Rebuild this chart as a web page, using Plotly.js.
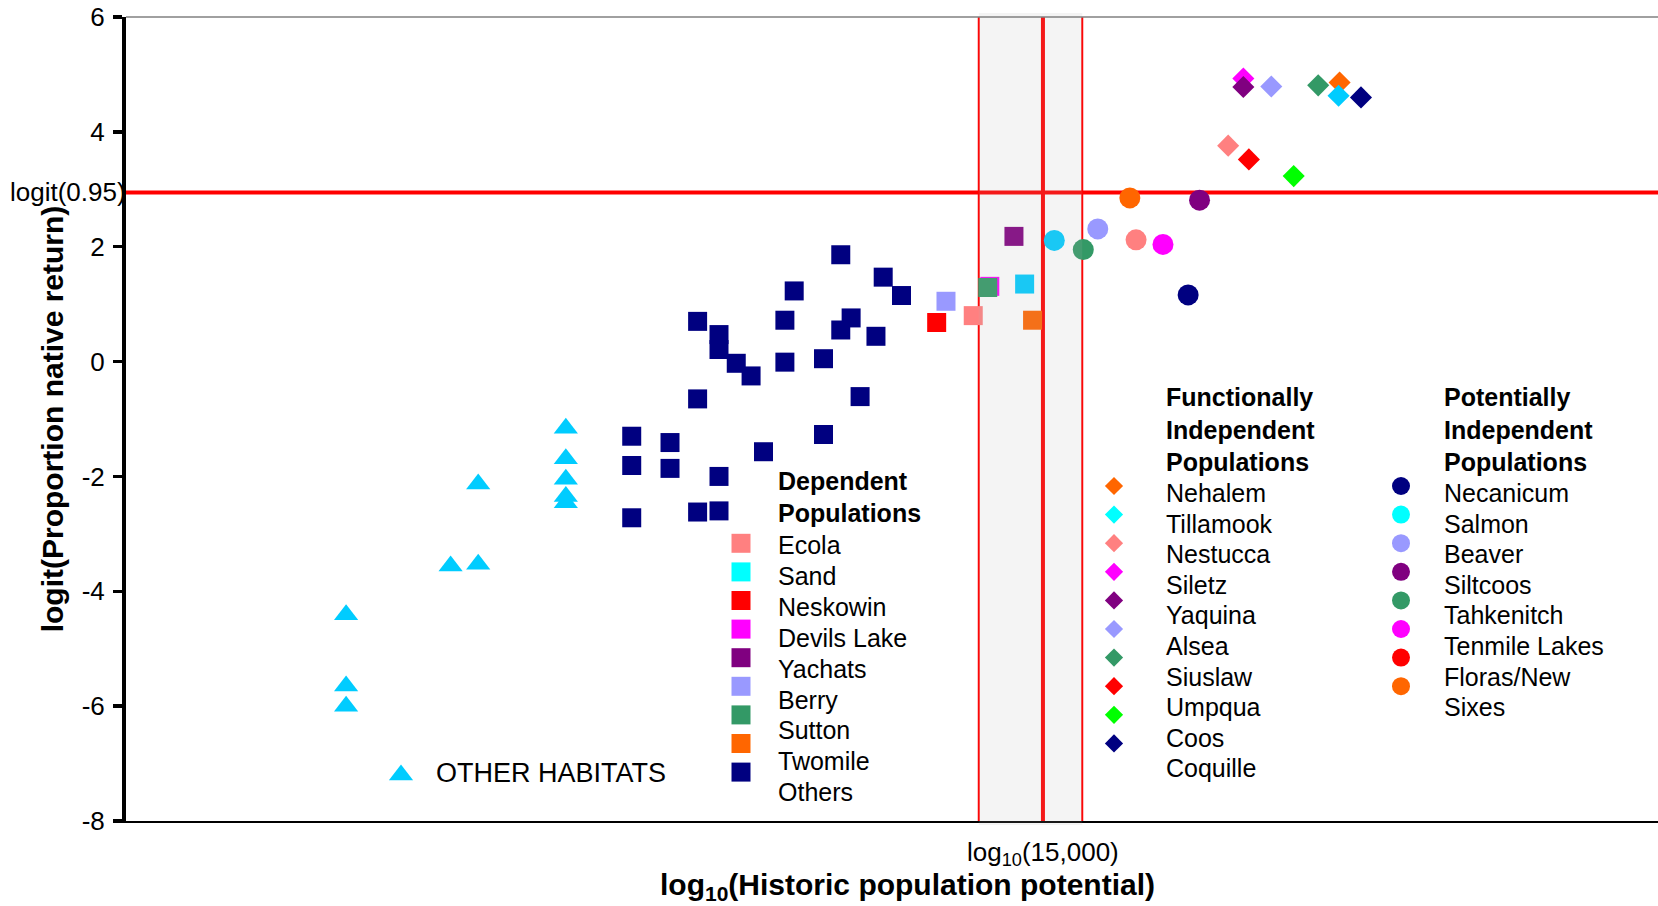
<!DOCTYPE html>
<html><head><meta charset="utf-8">
<script src="https://cdn.plot.ly/plotly-3.0.1.min.js"></script>
<style>html,body{margin:0;padding:0;background:#fff}#chart{width:1658px;height:906px}</style>
</head><body><div id="chart"></div>
<script>
// ---------------- DATA (x = log10 historic potential, y = logit proportion) ----------------
const otherHabitatsX = [2.156, 2.156, 2.156, 2.459, 2.539, 2.539, 2.793, 2.793, 2.793, 2.793, 2.793];
const otherHabitatsY = [-4.41, -5.65, -6.00, -3.56, -3.53, -2.13, -1.16, -1.69, -2.05, -2.35, -2.46];

const othersX = [3.590, 3.713, 3.766, 3.455, 3.175, 3.237, 3.237, 3.287, 3.330, 3.428, 3.620, 3.590, 3.692, 3.428,
                 3.540, 3.175, 3.646, 2.984, 3.095, 2.984, 3.095, 3.366, 3.540, 3.237, 3.175, 3.237, 2.984];
const othersY = [1.86, 1.47, 1.15, 1.23, 0.70, 0.47, 0.21, -0.03, -0.25, 0.72, 0.76, 0.55, 0.44, -0.01,
                 0.05, -0.65, -0.61, -1.30, -1.41, -1.81, -1.86, -1.57, -1.27, -2.00, -2.62, -2.60, -2.72];

const dependentNames = ['Ecola', 'Sand', 'Neskowin', 'Devils Lake', 'Yachats', 'Berry', 'Sutton', 'Twomile'];
const dependentX = [3.974, 4.123, 3.868, 4.022, 4.092, 3.895, 4.016, 4.146];
const dependentY = [0.80, 1.35, 0.68, 1.31, 2.18, 1.05, 1.29, 0.72];

const functionalNames = ['Nehalem', 'Tillamook', 'Nestucca', 'Siletz', 'Yaquina', 'Alsea', 'Siuslaw', 'Umpqua', 'Coos', 'Coquille'];
const functionalX = [5.036, 5.033, 4.713, 4.757, 4.757, 4.838, 4.974, 4.773, 4.903, 5.098];
const functionalY = [4.86, 4.63, 3.76, 4.93, 4.78, 4.79, 4.81, 3.52, 3.23, 4.60];

const potentialNames = ['Necanicum', 'Salmon', 'Beaver', 'Siltcoos', 'Tahkenitch', 'Tenmile Lakes', 'Floras/New Sixes', 'Sixes'];
const potentialX = [4.597, 4.209, 4.335, 4.630, 4.293, 4.524, 4.446, 4.428];
const potentialY = [1.16, 2.11, 2.31, 2.81, 1.95, 2.04, 2.12, 2.85];

const thresholdPop = 15000;          // log10(15,000)
const bandLow = 3.99, bandHigh = 4.29; // shaded band (log10 units)
const thresholdProp = 0.95;          // logit(0.95)
const yTicks = [-8, -6, -4, -2, 0, 2, 4, 6];

// legend texts
const depLegendHead = ['Dependent', 'Populations'];
const depLegendText = ['Ecola', 'Sand', 'Neskowin', 'Devils Lake', 'Yachats', 'Berry', 'Sutton', 'Twomile', 'Others'];
const funLegendHead = ['Functionally', 'Independent', 'Populations'];
const funLegendText = ['Nehalem', 'Tillamook', 'Nestucca', 'Siletz', 'Yaquina', 'Alsea', 'Siuslaw', 'Umpqua', 'Coos', 'Coquille'];
const potLegendHead = ['Potentially', 'Independent', 'Populations'];
const potLegendText = ['Necanicum', 'Salmon', 'Beaver', 'Siltcoos', 'Tahkenitch', 'Tenmile Lakes', 'Floras/New', 'Sixes'];

// ---------------- STYLE ----------------
const C = {pink:'#FF8080', cyan:'#00CCFF', aqua:'#00FFFF', red:'#FF0000', magenta:'#FF00FF', purple:'#800080',
           lavender:'#9999FF', green:'#339966', orange:'#FF6600', navy:'#000080', lime:'#00FF00'};
const depColors = [C.pink, C.cyan, C.red, C.magenta, C.purple, C.lavender, C.green, C.orange];
const funColors = [C.orange, C.cyan, C.pink, C.magenta, C.purple, C.lavender, C.green, C.red, C.lime, C.navy];
const potColors = [C.navy, C.cyan, C.lavender, C.purple, C.green, C.magenta, C.pink, C.orange];
const depLegColors = [C.pink, C.aqua, C.red, C.magenta, C.purple, C.lavender, C.green, C.orange, C.navy];
const funLegColors = [C.orange, C.aqua, C.pink, C.magenta, C.purple, C.lavender, C.green, C.red, C.lime, C.navy];
const potLegColors = [C.navy, C.aqua, C.lavender, C.purple, C.green, C.magenta, C.red, C.orange];
const FONT = 'Liberation Sans, Arial, Helvetica, sans-serif';
const LEGFS = 25;

const W = 1658, H = 906, ML = 126, MR = 0, MT = 17, MB = 85;
const PH = H - MT - MB, PW = W - ML - MR;

const traces = [
  {type:'scatter', mode:'markers', name:'OTHER HABITATS', x:otherHabitatsX, y:otherHabitatsY,
   marker:{symbol:'triangle-up', size:21, color:C.cyan, opacity:1, line:{width:0}}, showlegend:false},
  {type:'scatter', mode:'markers', name:'Others', x:othersX, y:othersY,
   marker:{symbol:'square', size:19, color:C.navy, opacity:1, line:{width:0}}, showlegend:false},
  {type:'scatter', mode:'markers', name:'Dependent Populations', x:dependentX, y:dependentY, text:dependentNames,
   marker:{symbol:'square', size:19, color:depColors, opacity:1, line:{width:0}}, showlegend:false},
  {type:'scatter', mode:'markers', name:'Functionally Independent Populations', x:functionalX, y:functionalY, text:functionalNames,
   marker:{symbol:'diamond', size:17, color:funColors, opacity:1, line:{width:0}}, showlegend:false},
  {type:'scatter', mode:'markers', name:'Potentially Independent Populations', x:potentialX, y:potentialY, text:potentialNames,
   marker:{symbol:'circle', size:21, color:potColors, opacity:1, line:{width:0}}, showlegend:false}
];

// ---------------- custom legend (pixel coordinate overlay axis) ----------------
const annotations = [];
const legX = [], legY = [], legSym = [], legCol = [], legSize = [];
function legendBlock(opt) {
  opt.head.forEach((t, i) => annotations.push({xref:'x2', yref:'y2', x:opt.tx, y:opt.hy0 + i*opt.hstep, text:'<b>'+t+'</b>',
    showarrow:false, xanchor:'left', yanchor:'middle', font:{family:FONT, size:LEGFS, color:'#000'}}));
  opt.text.forEach((t, i) => annotations.push({xref:'x2', yref:'y2', x:opt.tx, y:opt.ty0 + i*opt.tstep, text:t,
    showarrow:false, xanchor:'left', yanchor:'middle', font:{family:FONT, size:LEGFS, color:'#000'}}));
  opt.colors.forEach((c, i) => { legX.push(opt.mx); legY.push(opt.my0 + i*opt.mstep); legSym.push(opt.sym); legCol.push(c); legSize.push(opt.size); });
}
legendBlock({head:depLegendHead, text:depLegendText, colors:depLegColors, sym:'square', size:19,
  tx:776, hy0:481, hstep:31.6, ty0:545, tstep:30.9, mx:741, my0:543.3, mstep:28.6});
legendBlock({head:funLegendHead, text:funLegendText, colors:funLegColors, sym:'diamond', size:14,
  tx:1164, hy0:397.3, hstep:32.4, ty0:493, tstep:30.6, mx:1114, my0:486, mstep:28.6});
legendBlock({head:potLegendHead, text:potLegendText, colors:potLegColors, sym:'circle', size:18,
  tx:1442, hy0:397.3, hstep:32.4, ty0:493, tstep:30.6, mx:1401, my0:486, mstep:28.6});
// other habitats entry
legX.push(401); legY.push(775); legSym.push('triangle-up'); legCol.push(C.cyan); legSize.push(21);
annotations.push({xref:'x2', yref:'y2', x:434, y:773.3, text:'OTHER HABITATS', showarrow:false, xanchor:'left', yanchor:'middle',
  font:{family:FONT, size:27, color:'#000'}});

traces.push({type:'scatter', mode:'markers', xaxis:'x2', yaxis:'y2', x:legX, y:legY, hoverinfo:'skip', showlegend:false,
  marker:{symbol:legSym, color:legCol, size:legSize, opacity:1, line:{width:0}}});

// reference labels
const logitVal = Math.log(thresholdProp / (1 - thresholdProp));
const popVal = Math.log10(thresholdPop);
annotations.push({xref:'paper', yref:'y', x:0.001, y:logitVal, text:'logit(0.95)', showarrow:false, xanchor:'right', yanchor:'middle',
  font:{family:FONT, size:26, color:'#000'}});
annotations.push({xref:'x', yref:'paper', x:popVal, y:(821 - 853) / PH, text:'log<sub>10</sub>(15,000)', showarrow:false,
  xanchor:'center', yanchor:'middle', font:{family:FONT, size:26, color:'#000'}, borderpad:0});
annotations.push({xref:'paper', yref:'paper', x:(907 - ML) / PW, y:(821 - 886) / PH,
  text:'<b>log<sub>10</sub>(Historic population potential)</b>', showarrow:false, xanchor:'center', yanchor:'middle',
  font:{family:FONT, size:30, color:'#000'}, borderpad:0});

const shapes = [
  {type:'line', xref:'paper', yref:'y', x0:0, x1:1, y0:logitVal, y1:logitVal, line:{color:'#FF0000', width:4}, layer:'below'},
  {type:'line', xref:'x', yref:'paper', x0:bandLow, x1:bandLow, y0:0, y1:1, line:{color:'#FF0000', width:2}, layer:'below'},
  {type:'line', xref:'x', yref:'paper', x0:bandHigh, x1:bandHigh, y0:0, y1:1, line:{color:'#FF0000', width:2}, layer:'below'},
  {type:'line', xref:'x', yref:'paper', x0:popVal, x1:popVal, y0:0, y1:1, line:{color:'#FF0000', width:4}, layer:'below'},
  {type:'rect', xref:'x', yref:'paper', x0:bandLow, x1:bandHigh, y0:-0.005, y1:1.005, fillcolor:'rgba(175,175,175,0.14)',
   line:{width:0}, layer:'above'},
  {type:'line', xref:'paper', yref:'paper', x0:0, x1:1, y0:1, y1:1, line:{color:'#808080', width:1.5}, layer:'above'}
];

const layout = {
  width:W, height:H, margin:{l:ML, r:MR, t:MT, b:MB}, paper_bgcolor:'#fff', plot_bgcolor:'#fff',
  font:{family:FONT, color:'#000'}, showlegend:false, hovermode:'closest',
  xaxis:{range:[1.518, 5.959], showgrid:false, zeroline:false, showticklabels:false, ticks:'',
         showline:true, linecolor:'#000', linewidth:1.5, fixedrange:true},
  yaxis:{range:[-8, 6], tickmode:'array', tickvals:yTicks, ticktext:yTicks.map(String), showgrid:false, zeroline:false,
         ticks:'outside', ticklen:9, tickwidth:3.5, tickcolor:'#000', showline:true, linecolor:'#000', linewidth:4,
         tickfont:{family:FONT, size:26, color:'#000'}, ticklabelstandoff:3,
         title:{text:'<b>logit(Proportion native return)</b>', font:{family:FONT, size:30, color:'#000'}, standoff:10}},
  xaxis2:{overlaying:'x', range:[ML, W - MR], visible:false, fixedrange:true},
  yaxis2:{overlaying:'y', range:[H - MB, MT], visible:false, fixedrange:true},
  annotations:annotations, shapes:shapes
};

Plotly.newPlot('chart', traces, layout, {displayModeBar:false, staticPlot:true});
</script></body></html>
